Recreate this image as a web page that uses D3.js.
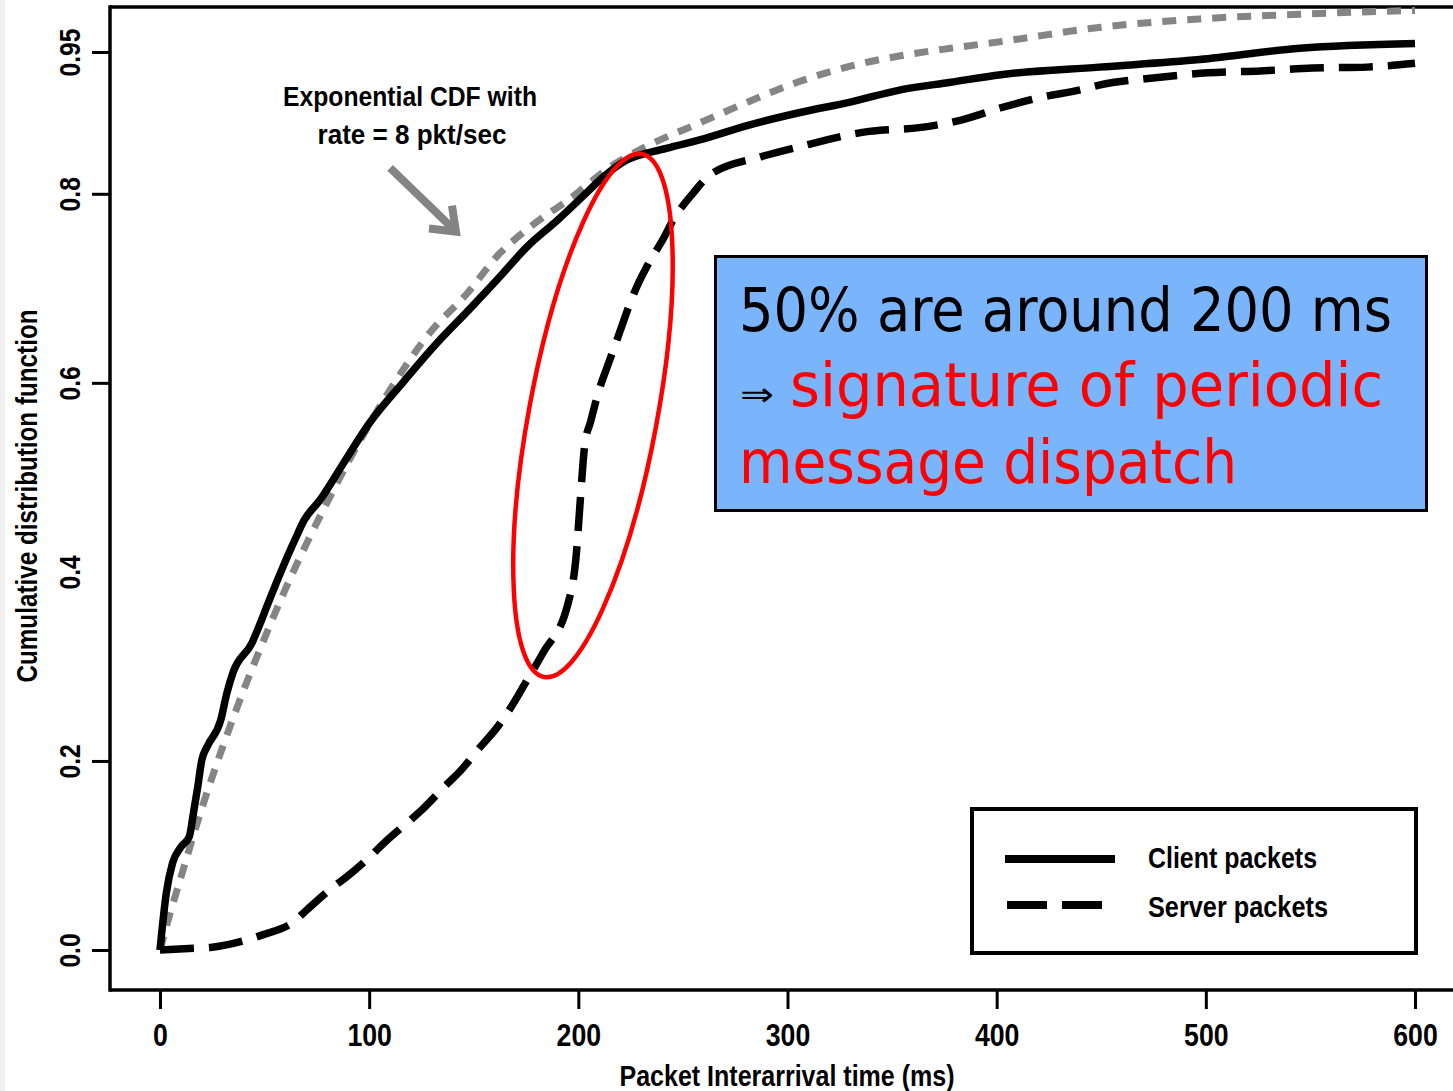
<!DOCTYPE html>
<html>
<head>
<meta charset="utf-8">
<script src="https://cdn.jsdelivr.net/npm/d3@7"></script>
<style>
  html, body { margin: 0; padding: 0; background: #ffffff; }
  svg { display: block; }
</style>
</head>
<body>
<svg id="chart" width="1453" height="1091"></svg>
<script>
// Inter-arrival time CDFs (ms) for client and server packets, with an exponential reference.
const clientTime = [0, 3, 6, 10, 14, 16, 18, 20, 22.5, 29, 32, 35, 44, 48, 51, 64.5, 69, 76.5, 88, 100, 116, 132, 148, 164, 175.5, 190, 202, 212, 221, 242, 258, 282, 306, 330, 354, 378, 402, 449, 497, 545, 600];
const clientCdf  = [0, 0.060, 0.092, 0.109, 0.120, 0.145, 0.172, 0.201, 0.215, 0.243, 0.272, 0.294, 0.325, 0.346, 0.363, 0.434, 0.455, 0.476, 0.516, 0.557, 0.600, 0.641, 0.678, 0.716, 0.744, 0.772, 0.797, 0.818, 0.833, 0.848, 0.857, 0.873, 0.886, 0.897, 0.910, 0.918, 0.926, 0.934, 0.942, 0.954, 0.959];

const serverTime = [0, 18, 25, 42, 49, 64, 70, 83, 89, 100, 107, 120, 126, 137, 143, 154, 161, 169, 174, 183, 195, 199, 201, 203, 206, 210, 214, 220, 224, 228, 233, 241, 245, 255, 263, 287, 306, 339, 363, 383, 402, 421, 440, 449, 477, 501, 526, 551, 577, 600];
const serverCdf  = [0, 0.002, 0.003, 0.011, 0.016, 0.030, 0.042, 0.067, 0.077, 0.098, 0.113, 0.138, 0.150, 0.175, 0.188, 0.217, 0.235, 0.261, 0.280, 0.314, 0.366, 0.418, 0.478, 0.533, 0.560, 0.593, 0.618, 0.655, 0.680, 0.702, 0.724, 0.754, 0.771, 0.801, 0.820, 0.839, 0.850, 0.866, 0.870, 0.878, 0.891, 0.902, 0.910, 0.915, 0.923, 0.928, 0.930, 0.933, 0.934, 0.938];

const expTime = [0, 5, 10, 20, 30, 40, 50, 60, 80, 100, 113, 129, 147, 162, 173, 185, 195, 205, 215, 228, 258, 282, 306, 330, 354, 378, 402, 449, 497, 545, 600];
const expCdf  = [0, 0.040, 0.077, 0.150, 0.215, 0.275, 0.330, 0.382, 0.474, 0.556, 0.603, 0.653, 0.695, 0.736, 0.758, 0.778, 0.793, 0.811, 0.828, 0.845, 0.875, 0.898, 0.919, 0.935, 0.946, 0.954, 0.961, 0.976, 0.985, 0.990, 0.994];

const xTicks = [0, 100, 200, 300, 400, 500, 600];
const xTickLabels = ["0", "100", "200", "300", "400", "500", "600"];
const yTicks = [0, 0.2, 0.4, 0.6, 0.8, 0.95];
const yTickLabels = ["0.0", "0.2", "0.4", "0.6", "0.8", "0.95"];
const yTicksWithoutMark = [0.4];

const seriesNames = ["Client packets", "Server packets"];
const noteLines = ["Exponential CDF with", "rate = 8 pkt/sec"];
const calloutLines = ["50% are around 200 ms", "signature of periodic", "message dispatch"];
const calloutArrow = "\u21D2";

const plotFont = "'Liberation Sans Narrow','Arial Narrow','Liberation Sans',Arial,sans-serif";
const boxFont = "Tahoma,'DejaVu Sans Condensed','DejaVu Sans',sans-serif";

const svg = d3.select("#chart");

svg.append("rect").attr("x", 0).attr("y", 0).attr("width", 1453).attr("height", 1091).attr("fill", "#ffffff");
svg.append("rect").attr("x", 0).attr("y", 0).attr("width", 5).attr("height", 1091).attr("fill", "#f1f1f1");

const x = d3.scaleLinear().domain([0, 600]).range([160, 1415]);
const y = d3.scaleLinear().domain([0, 0.95]).range([950, 52]);

const axisLeftX = 110, axisBottomY = 990, frameTop = 7, frameRight = 1453;

// Squeeze a label horizontally to a condensed width
function condense(sel, factor) {
  sel.each(function () {
    const w = this.getComputedTextLength();
    d3.select(this).attr("textLength", w * factor).attr("lengthAdjust", "spacingAndGlyphs");
  });
}

// Frame: top edge, left axis line, bottom axis line
const frame = svg.append("g").attr("stroke", "#000").attr("stroke-width", 3.5).attr("fill", "none");
frame.append("line").attr("x1", axisLeftX).attr("x2", frameRight).attr("y1", frameTop).attr("y2", frameTop);
frame.append("line").attr("x1", axisLeftX).attr("x2", axisLeftX).attr("y1", frameTop - 1.75).attr("y2", axisBottomY + 1.75);
frame.append("line").attr("x1", axisLeftX).attr("x2", frameRight).attr("y1", axisBottomY).attr("y2", axisBottomY);

// X axis
const xAxis = d3.axisBottom(x)
  .tickValues(xTicks)
  .tickFormat((d, i) => xTickLabels[i])
  .tickSize(19)
  .tickSizeOuter(0)
  .tickPadding(15);
const gx = svg.append("g").attr("transform", `translate(0,${axisBottomY})`).call(xAxis);
gx.select(".domain").remove();
gx.selectAll(".tick line").attr("stroke", "#000").attr("stroke-width", 3);
gx.selectAll(".tick text")
  .attr("fill", "#000")
  .style("font-family", plotFont)
  .style("font-weight", "bold")
  .style("font-size", "31px")
  .call(condense, 0.86);

// Y axis with rotated labels
const yAxis = d3.axisLeft(y)
  .tickValues(yTicks)
  .tickFormat((d, i) => yTickLabels[i])
  .tickSize(18)
  .tickSizeOuter(0);
const gy = svg.append("g").attr("transform", `translate(${axisLeftX},0)`).call(yAxis);
gy.select(".domain").remove();
gy.selectAll(".tick line")
  .attr("stroke", "#000").attr("stroke-width", 3)
  .attr("display", d => yTicksWithoutMark.includes(d) ? "none" : null);
gy.selectAll(".tick text")
  .attr("fill", "#000")
  .attr("transform", "rotate(-90)")
  .attr("x", 0)
  .attr("y", -30)
  .attr("dy", 0)
  .attr("text-anchor", "middle")
  .style("font-family", plotFont)
  .style("font-weight", "bold")
  .style("font-size", "30px")
  .call(condense, 0.82);

// Axis titles
svg.append("text")
  .attr("transform", "translate(37,496) rotate(-90)")
  .attr("text-anchor", "middle")
  .attr("textLength", 373).attr("lengthAdjust", "spacingAndGlyphs")
  .style("font-family", plotFont).style("font-weight", "bold").style("font-size", "29px")
  .text("Cumulative distribution function");

svg.append("text")
  .attr("x", 787).attr("y", 1086)
  .attr("text-anchor", "middle")
  .attr("textLength", 335).attr("lengthAdjust", "spacingAndGlyphs")
  .style("font-family", plotFont).style("font-weight", "bold").style("font-size", "30px")
  .text("Packet Interarrival time (ms)");

// Curves
const toPoints = (ts, vs) => ts.map((t, i) => [t, vs[i]]);
const line = d3.line().x(d => x(d[0])).y(d => y(d[1])).curve(d3.curveMonotoneX);

const curves = svg.append("g").attr("fill", "none").attr("stroke-linejoin", "round");
curves.append("path")
  .attr("d", line(toPoints(expTime, expCdf)))
  .attr("stroke", "#858585").attr("stroke-width", 7)
  .attr("stroke-dasharray", "14,11");
curves.append("path")
  .attr("d", line(toPoints(serverTime, serverCdf)))
  .attr("stroke", "#000").attr("stroke-width", 7.5)
  .attr("stroke-dasharray", "34,15");
curves.append("path")
  .attr("d", line(toPoints(clientTime, clientCdf)))
  .attr("stroke", "#000").attr("stroke-width", 7.5);

// Note on the exponential reference, with arrow
const note = svg.append("g")
  .style("font-family", plotFont).style("font-weight", "bold").style("font-size", "27px")
  .attr("text-anchor", "middle").attr("fill", "#000");
note.append("text").attr("x", 410).attr("y", 106)
  .attr("textLength", 254).attr("lengthAdjust", "spacingAndGlyphs").text(noteLines[0]);
note.append("text").attr("x", 412).attr("y", 144)
  .attr("textLength", 189).attr("lengthAdjust", "spacingAndGlyphs").text(noteLines[1]);

const arrowStart = [110, 0.8275], arrowTip = [141.5, 0.760];
const ax0 = x(arrowStart[0]), ay0 = y(arrowStart[1]);
const ax1 = x(arrowTip[0]), ay1 = y(arrowTip[1]);
const arrow = svg.append("g").attr("stroke", "#848484").attr("fill", "none").attr("stroke-width", 8);
arrow.append("line").attr("x1", ax0).attr("y1", ay0).attr("x2", ax1 - 3).attr("y2", ay1 - 3);
arrow.append("path")
  .attr("stroke-linejoin", "miter")
  .attr("d", `M${ax1 - 27},${ay1 - 3} L${ax1},${ay1} L${ax1 - 4},${ay1 - 26}`);

// Red ellipse around the server jump near 200 ms
const ellipseCenter = [207, 0.5655];
svg.append("ellipse")
  .attr("cx", 0).attr("cy", 0).attr("rx", 64).attr("ry", 266)
  .attr("transform", `translate(${x(ellipseCenter[0])},${y(ellipseCenter[1])}) rotate(10.6)`)
  .attr("fill", "none").attr("stroke", "#ff0000").attr("stroke-width", 4.5);

// Legend
const legend = svg.append("g");
legend.append("rect").attr("x", 972).attr("y", 809).attr("width", 444).attr("height", 144)
  .attr("fill", "#fff").attr("stroke", "#000").attr("stroke-width", 4);
legend.append("line").attr("x1", 1005).attr("x2", 1115).attr("y1", 859).attr("y2", 859)
  .attr("stroke", "#000").attr("stroke-width", 8);
legend.append("line").attr("x1", 1007).attr("x2", 1103).attr("y1", 905).attr("y2", 905)
  .attr("stroke", "#000").attr("stroke-width", 8).attr("stroke-dasharray", "40,15");
const legendText = legend.append("g")
  .style("font-family", plotFont).style("font-weight", "bold").style("font-size", "30px").attr("fill", "#000");
legendText.append("text").attr("x", 1148).attr("y", 868)
  .attr("textLength", 169).attr("lengthAdjust", "spacingAndGlyphs").text(seriesNames[0]);
legendText.append("text").attr("x", 1148).attr("y", 917)
  .attr("textLength", 180).attr("lengthAdjust", "spacingAndGlyphs").text(seriesNames[1]);

// Callout box
const box = svg.append("g").style("font-family", boxFont);
box.append("rect").attr("x", 715.5).attr("y", 256.5).attr("width", 711).attr("height", 254)
  .attr("fill", "#7ab4fa").attr("stroke", "#000").attr("stroke-width", 3);
box.append("text").attr("x", 739).attr("y", 331).attr("fill", "#000").style("font-size", "61px")
  .attr("textLength", 653).attr("lengthAdjust", "spacingAndGlyphs").text(calloutLines[0]);
box.append("text").attr("x", 740).attr("y", 406).attr("fill", "#000").style("font-size", "34px")
  .attr("textLength", 34).attr("lengthAdjust", "spacingAndGlyphs").text(calloutArrow);
box.append("text").attr("x", 790).attr("y", 406).attr("fill", "#ff0000").style("font-size", "61px")
  .attr("textLength", 593).attr("lengthAdjust", "spacingAndGlyphs").text(calloutLines[1]);
box.append("text").attr("x", 739).attr("y", 483).attr("fill", "#ff0000").style("font-size", "61px")
  .attr("textLength", 498).attr("lengthAdjust", "spacingAndGlyphs").text(calloutLines[2]);
</script>
</body>
</html>
